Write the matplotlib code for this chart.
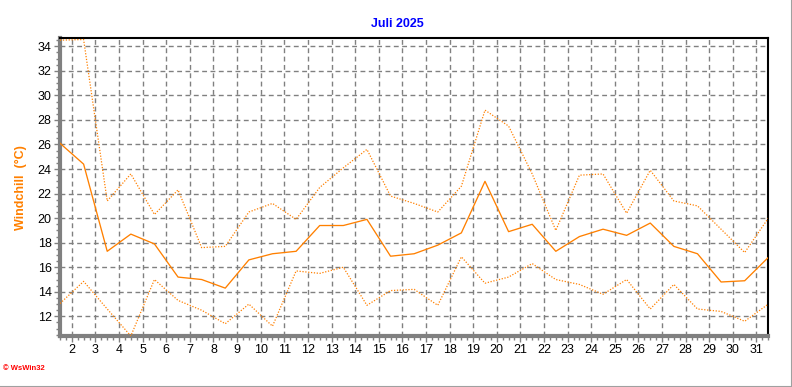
import matplotlib
matplotlib.use("Agg")
import matplotlib.pyplot as plt
from matplotlib.ticker import MultipleLocator, FixedLocator
from matplotlib.lines import Line2D

days = list(range(1, 32))
tmax = [34.5, 34.55, 21.4, 23.6, 20.3, 22.3, 17.6, 17.7, 20.5, 21.2, 19.9, 22.5, 24.1, 25.6, 21.8, 21.2,
        20.5, 22.6, 28.8, 27.5, 23.6, 19.0, 23.5, 23.6, 20.4, 23.9, 21.4, 21.0, 19.1, 17.2, 20.0]
tmean = [26.1, 24.4, 17.3, 18.7, 17.9, 15.2, 15.0, 14.3, 16.6, 17.1, 17.3, 19.4, 19.4, 19.9, 16.9, 17.1,
         17.8, 18.8, 23.0, 18.9, 19.5, 17.3, 18.5, 19.1, 18.6, 19.6, 17.7, 17.1, 14.8, 14.9, 16.8]
tmin = [13.05, 14.85, 12.6, 10.4, 15.0, 13.3, 12.5, 11.4, 13.0, 11.2, 15.7, 15.5, 16.0, 12.9, 14.1, 14.2,
        12.9, 16.85, 14.7, 15.2, 16.3, 15.0, 14.6, 13.8, 15.0, 12.6, 14.6, 12.6, 12.4, 11.6, 13.0]
xtick_labels = [str(d) for d in range(2, 32)]
title = "Juli 2025"
ylabel = "Windchill  (°C)"

plt.rcParams['font.family'] = ['Liberation Sans', 'DejaVu Sans']

fig = plt.figure(figsize=(7.92, 3.87), dpi=100)
W, H = 792, 387
l, r, t, b = 60, 768.3, 38.3, 336
ax = fig.add_axes([l / W, 1 - b / H, (r - l) / W, (b - t) / H])

orange = '#FF8000'
xs = [d + 0.5 for d in days]
ax.plot(xs, tmax, color=orange, lw=0.9, ls=(0, (1, 1.3)), zorder=3)
ax.plot(xs, tmean, color=orange, lw=0.95, ls='-', zorder=3)
ax.plot(xs, tmin, color=orange, lw=0.9, ls=(0, (1, 1.3)), zorder=3)

ax.set_xlim(1.5, 31.5)
ax.set_ylim(min(tmin), 34.65)

ax.xaxis.set_major_locator(FixedLocator(list(range(2, 32))))
ax.set_xticklabels(xtick_labels)
ax.xaxis.set_minor_locator(MultipleLocator(0.25))
ax.yaxis.set_major_locator(MultipleLocator(2))
ax.yaxis.set_minor_locator(MultipleLocator(0.5))

ax.grid(True, which='major', color='#808080', ls=(0, (3.5, 2.5)), lw=1.0, zorder=1)

ax.tick_params(axis='both', which='major', direction='out', length=4, width=1,
               color='#808080', labelsize=9, labelcolor='black')
ax.tick_params(axis='both', which='minor', direction='out', length=3, width=1, color='#808080')
ax.tick_params(axis='x', pad=2)
ax.tick_params(axis='y', pad=2)

for s in ('left', 'bottom'):
    ax.spines[s].set_color('#808080')
    ax.spines[s].set_linewidth(3)
for s in ('top', 'right'):
    ax.spines[s].set_color('black')
    ax.spines[s].set_linewidth(1.5)

ax.set_ylabel(ylabel, color=orange, fontsize=9, fontweight='bold', labelpad=8)
fig.text(397 / W, 1 - 24 / H, title, color='#0000FF', fontsize=9, fontweight='bold',
         ha='center', va='center')
fig.text(3 / W, 1 - 368 / H, "© WsWin32", color='red', fontsize=5.5, fontweight='bold',
         ha='left', va='center')

# figure border (right and bottom)
fig.add_artist(Line2D([0, 1], [0.5 / H, 0.5 / H], transform=fig.transFigure, color='#a0a0a0', lw=1.5))
fig.add_artist(Line2D([1 - 0.5 / W, 1 - 0.5 / W], [0, 1], transform=fig.transFigure, color='#a0a0a0', lw=1.5))

fig.savefig('out.png', dpi=100, facecolor='white')
